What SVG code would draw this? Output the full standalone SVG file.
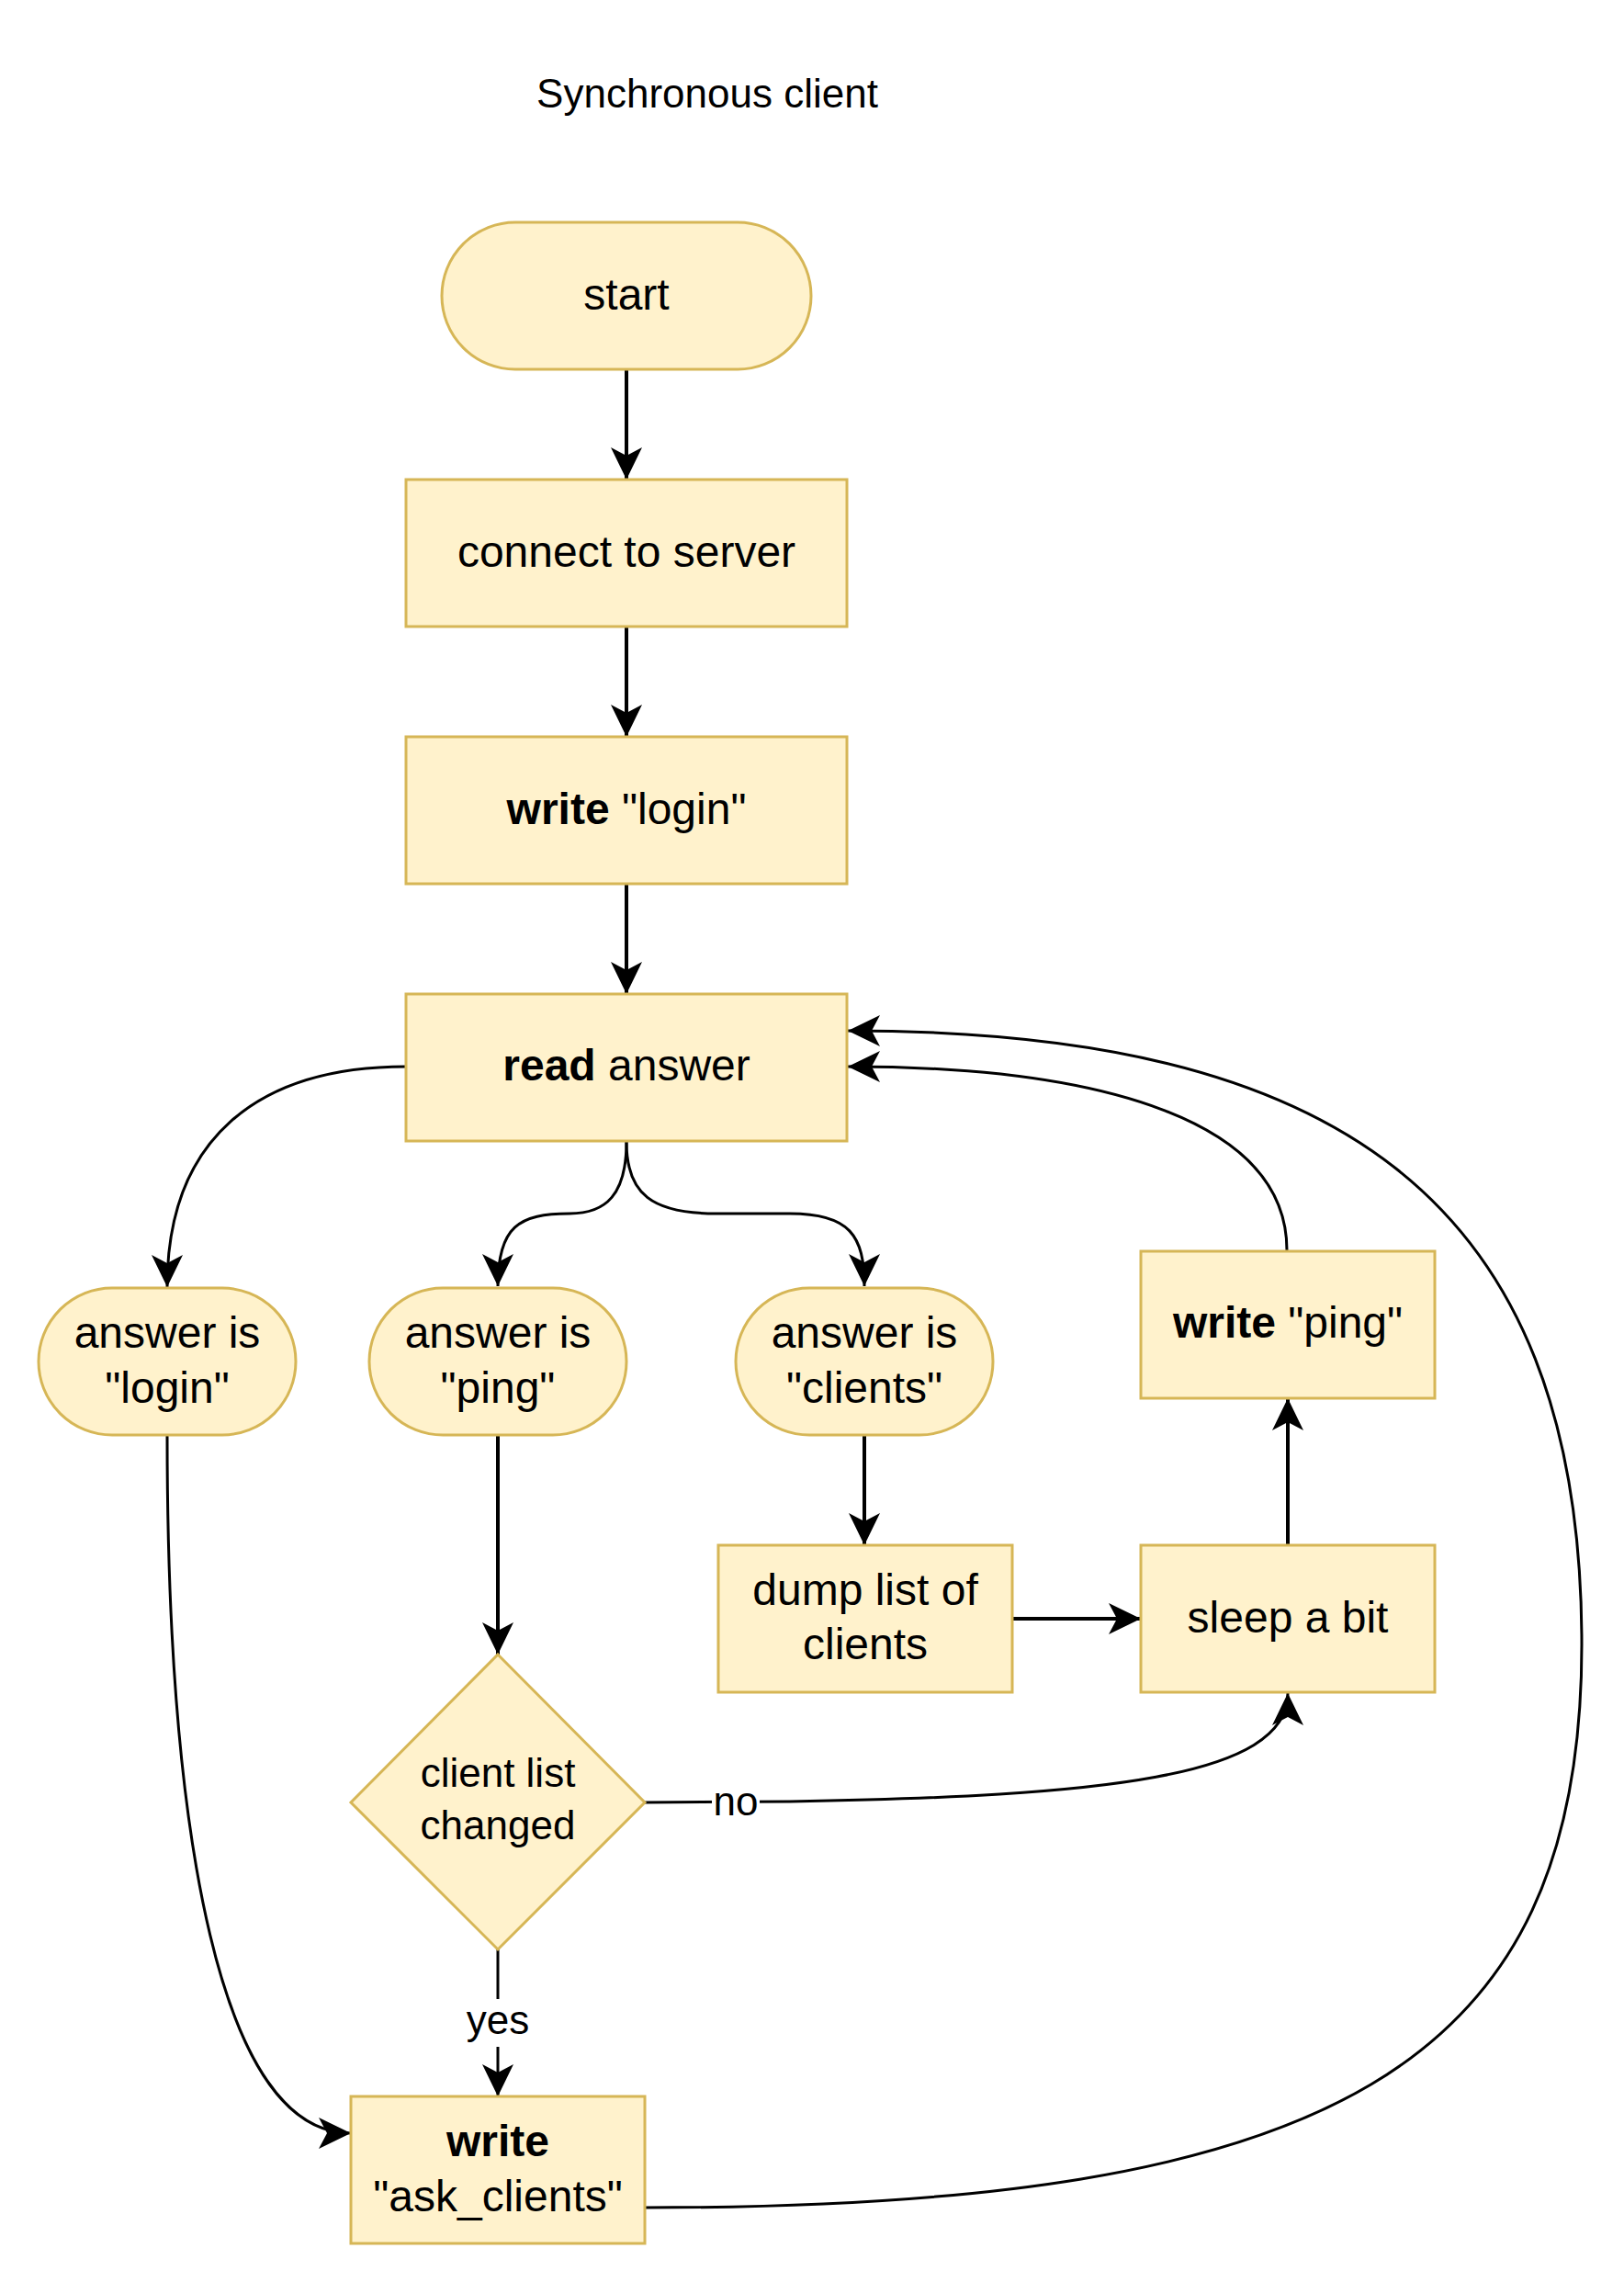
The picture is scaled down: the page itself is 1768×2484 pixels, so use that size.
<svg xmlns="http://www.w3.org/2000/svg" width="1768" height="2484" viewBox="0 0 1768 2484">
  <style>
    .node { fill: #fff2cc; stroke: #d6b656; stroke-width: 3; }
    .t { font-family: "Liberation Sans", Arial, sans-serif; font-size: 48px; fill: #000; text-anchor: middle; }
    .ts { font-family: "Liberation Sans", Arial, sans-serif; font-size: 44px; fill: #000; text-anchor: middle; }
    .b { font-weight: bold; }
    .e { fill: none; stroke: #000; stroke-width: 4; marker-end: url(#arr); }
    .c { fill: none; stroke: #000; stroke-width: 3; marker-end: url(#arr); }
    .lbl { fill: #fff; stroke: none; }
  </style>
  <defs>
    <marker id="arr" viewBox="-36 -18 37 36" markerWidth="37" markerHeight="36" refX="0" refY="0" orient="auto" markerUnits="userSpaceOnUse">
      <path d="M0,0 L-35,-17 L-26,0 L-35,17 Z" fill="#000"/>
    </marker>
  </defs>
  <rect width="1768" height="2484" fill="#fff"/>

  <text id="title" class="ts" x="770" y="117">Synchronous client</text>

  <g id="connectors">
    <path class="e" d="M682,403 L682,522"/>
    <path class="e" d="M682,682 L682,802"/>
    <path class="e" d="M682,962 L682,1082"/>
    <path class="c" d="M442,1161 C280,1161 182,1240 182,1401"/>
    <path class="c" d="M682,1243 C682,1300 660,1321 620,1321 C565,1321 542,1335 542,1400"/>
    <path class="c" d="M682,1243 C682,1300 710,1321 780,1321 L860,1321 C925,1321 941,1345 941,1400"/>
    <path class="e" d="M542,1563 L542,1801"/>
    <path class="e" d="M941,1563 L941,1682"/>
    <path class="e" d="M1102,1762 L1242,1762"/>
    <path class="e" d="M1402,1682 L1402,1522"/>
    <path class="c" d="M1401,1361 C1401,1220 1200,1161 923,1161"/>
    <path class="c" d="M702,1962 L860,1961 C1200,1955 1402,1935 1402,1843"/>
    <path class="c" d="M182,1563 C182,2000 240,2322 382,2322"/>
    <path class="c" d="M542,2122 L542,2282"/>
    <path class="c" d="M702,2403 C1450,2403 1722,2250 1722,1790 C1722,1300 1450,1122 923,1122"/>
    <rect class="lbl" x="775" y="1938" width="52" height="48"/>
    <text class="ts" x="801" y="1976">no</text>
    <rect class="lbl" x="512" y="2176" width="60" height="52"/>
    <text class="ts" x="542" y="2214">yes</text>
  </g>

  <g id="start">
    <rect class="node" x="481" y="242" width="402" height="160" rx="80" ry="80"/>
    <text class="t" x="682" y="337">start</text>
  </g>
  <g id="connect">
    <rect class="node" x="442" y="522" width="480" height="160"/>
    <text class="t" x="682" y="617">connect to server</text>
  </g>
  <g id="write-login">
    <rect class="node" x="442" y="802" width="480" height="160"/>
    <text class="t" x="682" y="897"><tspan class="b">write</tspan> "login"</text>
  </g>
  <g id="read-answer">
    <rect class="node" x="442" y="1082" width="480" height="160"/>
    <text class="t" x="682" y="1176"><tspan class="b">read</tspan> answer</text>
  </g>
  <g id="ans-login">
    <rect class="node" x="42" y="1402" width="280" height="160" rx="80" ry="80"/>
    <text class="t" x="182" y="1467">answer is</text>
    <text class="t" x="182" y="1527">"login"</text>
  </g>
  <g id="ans-ping">
    <rect class="node" x="402" y="1402" width="280" height="160" rx="80" ry="80"/>
    <text class="t" x="542" y="1467">answer is</text>
    <text class="t" x="542" y="1527">"ping"</text>
  </g>
  <g id="ans-clients">
    <rect class="node" x="801" y="1402" width="280" height="160" rx="80" ry="80"/>
    <text class="t" x="941" y="1467">answer is</text>
    <text class="t" x="941" y="1527">"clients"</text>
  </g>
  <g id="write-ping">
    <rect class="node" x="1242" y="1362" width="320" height="160"/>
    <text class="t" x="1402" y="1456"><tspan class="b">write</tspan> "ping"</text>
  </g>
  <g id="dump">
    <rect class="node" x="782" y="1682" width="320" height="160"/>
    <text class="t" x="942" y="1747">dump list of</text>
    <text class="t" x="942" y="1806">clients</text>
  </g>
  <g id="sleep">
    <rect class="node" x="1242" y="1682" width="320" height="160"/>
    <text class="t" x="1402" y="1777">sleep a bit</text>
  </g>
  <g id="decision">
    <polygon class="node" points="542,1801 702,1962 542,2122 382,1962"/>
    <text class="ts" x="542" y="1945">client list</text>
    <text class="ts" x="542" y="2002">changed</text>
  </g>
  <g id="write-ask">
    <rect class="node" x="382" y="2282" width="320" height="160"/>
    <text class="t b" x="542" y="2347">write</text>
    <text class="t" x="542" y="2407">"ask_clients"</text>
  </g>
</svg>
